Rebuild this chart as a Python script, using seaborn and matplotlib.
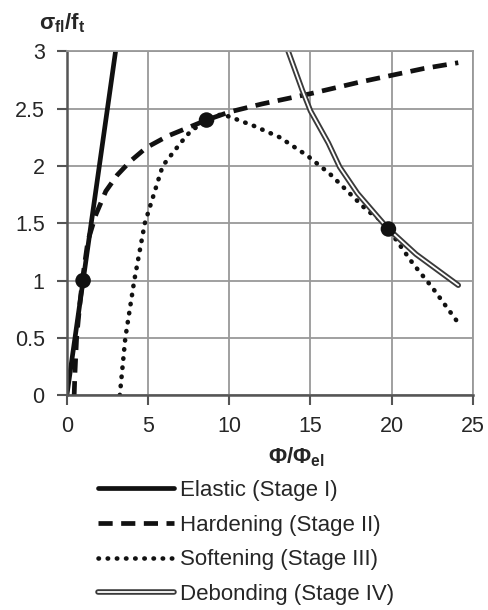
import numpy as np
import pandas as pd
import matplotlib
matplotlib.use("Agg")
import matplotlib.pyplot as plt
import matplotlib.patheffects as pe
import seaborn as sns

# curves (phi/phi_el, sigma_fl/f_t)
elastic_x = [0.0, 3.0]
elastic_y = [0.0, 3.0]

hard_x = [0.45, 0.5, 0.6, 0.8, 1.0, 1.3, 1.8, 2.4, 3.1, 3.9, 4.9, 6.2, 7.4, 8.6, 10.0, 12.0, 15.0, 18.0, 20.0, 22.0, 24.1]
hard_y = [0.0, 0.2, 0.5, 0.8, 1.05, 1.35, 1.58, 1.78, 1.92, 2.04, 2.16, 2.26, 2.33, 2.4, 2.47, 2.54, 2.63, 2.73, 2.79, 2.85, 2.9]

soft_x = [3.26, 3.6, 4.15, 4.8, 5.9, 7.0, 7.6, 8.6, 9.5, 10.0, 11.5, 13.1, 14.8, 16.2, 17.2, 18.5, 19.3, 19.8, 21.3, 22.5, 24.0]
soft_y = [0.0, 0.5, 1.0, 1.5, 2.0, 2.2, 2.3, 2.4, 2.45, 2.43, 2.35, 2.25, 2.09, 1.93, 1.79, 1.61, 1.53, 1.45, 1.15, 0.94, 0.65]

debond_x = [13.5, 14.5, 15.0, 16.1, 16.8, 17.9, 19.3, 19.8, 21.5, 24.1]
debond_y = [3.05, 2.66, 2.48, 2.2, 1.99, 1.76, 1.53, 1.45, 1.23, 0.96]

stage_x = [1.0, 8.6, 19.8]
stage_y = [1.0, 2.4, 1.45]

labels = ["Elastic (Stage I)", "Hardening (Stage II)", "Softening (Stage III)", "Debonding (Stage IV)"]
x_ticks = [0, 5, 10, 15, 20, 25]
y_ticks = [0, 0.5, 1, 1.5, 2, 2.5, 3]
y_ticklabels = ["0", "0.5", "1", "1.5", "2", "2.5", "3"]

sns.set_style("white")
plt.rcParams["font.family"] = ["Liberation Sans", "DejaVu Sans"]
plt.rcParams["mathtext.fontset"] = "custom"
plt.rcParams["mathtext.rm"] = "Liberation Sans"
plt.rcParams["mathtext.bf"] = "Liberation Sans:bold"
plt.rcParams["mathtext.it"] = "Liberation Sans:italic"

fig = plt.figure(figsize=(4.88, 6.10), dpi=100)
ax = fig.add_axes([0.137, 0.352, 0.832, 0.564])

el = pd.DataFrame({"x": elastic_x, "y": elastic_y})
hd = pd.DataFrame({"x": hard_x, "y": hard_y})
sf = pd.DataFrame({"x": soft_x, "y": soft_y})
db = pd.DataFrame({"x": debond_x, "y": debond_y})

sns.lineplot(data=el, x="x", y="y", ax=ax, color="#111111", lw=3.4, sort=False, label=labels[0])
sns.lineplot(data=hd, x="x", y="y", ax=ax, color="#111111", lw=3.4, sort=False, label=labels[1])
ax.lines[-1].set_dashes([3.0, 1.8])
sns.lineplot(data=sf, x="x", y="y", ax=ax, color="#111111", lw=3.3, sort=False, label=labels[2])
ax.lines[-1].set_linestyle((0, (0.1, 1.9)))
ax.lines[-1].set_dash_capstyle("round")
sns.lineplot(data=db, x="x", y="y", ax=ax, color="white", lw=1.3, sort=False, label=labels[3])
ax.lines[-1].set_path_effects([pe.Stroke(linewidth=4.0, foreground="#3a3a3a"), pe.Normal()])

sns.scatterplot(x=stage_x, y=stage_y, ax=ax, color="#111111", s=125, edgecolor="none", zorder=5)

ax.set_xlim(0, 25)
ax.set_ylim(0, 3)
ax.set_xticks(x_ticks)
ax.set_yticks(y_ticks)
ax.set_yticklabels(y_ticklabels)
ax.tick_params(labelsize=15.5, length=7, width=1.5, color="#555555", direction="out",
               left=True, bottom=True)
ax.tick_params(axis="y", pad=9)
ax.tick_params(axis="x", pad=8)
ax.grid(True, color="#999999", lw=1.3)
ax.set_axisbelow(True)
for s in ["top", "right"]:
    ax.spines[s].set_color("#999999")
    ax.spines[s].set_linewidth(1.3)
for s in ["left", "bottom"]:
    ax.spines[s].set_color("#555555")
    ax.spines[s].set_linewidth(1.8)
ax.set_xlabel("")
ax.set_ylabel("")

handles, _ = ax.get_legend_handles_labels()
ax.get_legend().remove()
fig.legend(handles[:4], labels, loc="upper left", bbox_to_anchor=(0.183, 0.228), frameon=False,
           fontsize=16, handlelength=3.4, handletextpad=0.3, labelspacing=0.62, borderaxespad=0)

fig.text(0.127, 0.962, r"$\mathbf{σ_{fl}/f_t}$", fontsize=16, ha="center", va="center")
fig.text(0.608, 0.251, r"$\mathbf{Φ/Φ_{el}}$", fontsize=16, ha="center", va="center")

fig.savefig("out.png", dpi=100)
